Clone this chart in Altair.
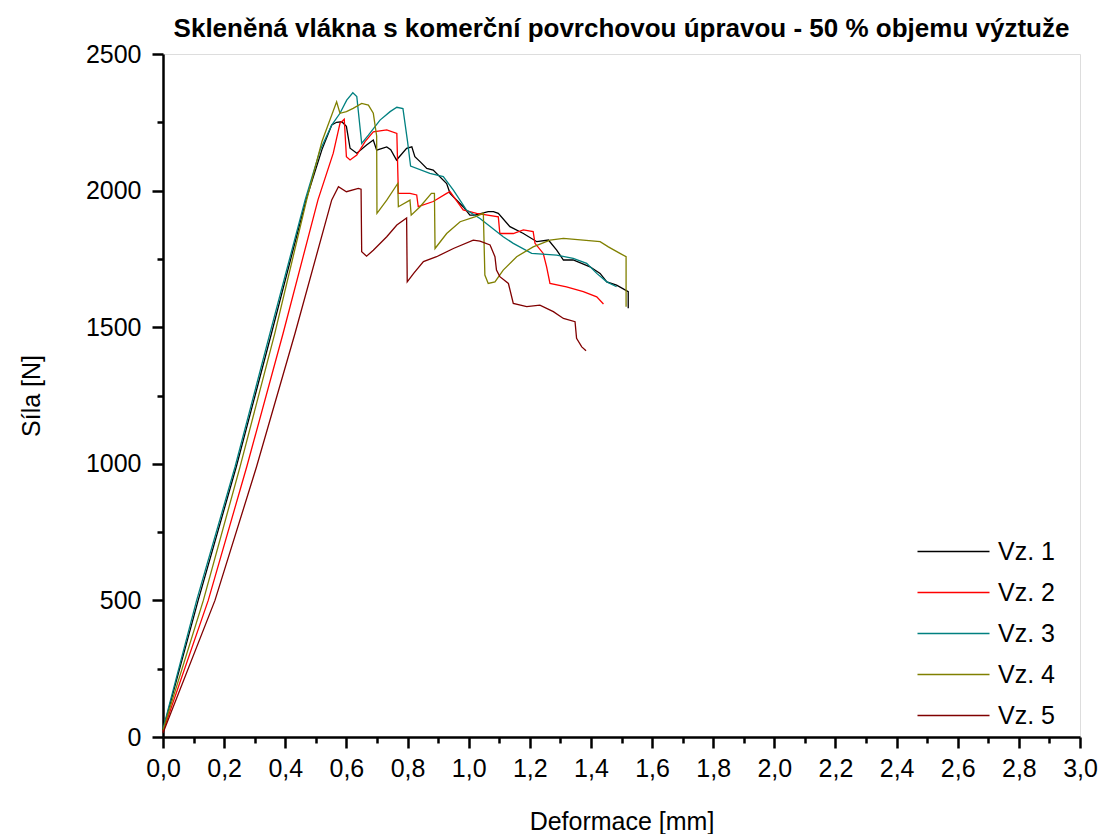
import altair as alt
import pandas as pd

# ---- data ----
names = ["Vz. 1", "Vz. 2", "Vz. 3", "Vz. 4", "Vz. 5"]
colors = ["#000000", "#FF0000", "#008080", "#808000", "#800000"]

x1 = [0, 0.115, 0.24, 0.355, 0.468, 0.52, 0.552, 0.568, 0.585, 0.60, 0.612, 0.634, 0.666, 0.688, 0.699,
      0.732, 0.745, 0.764, 0.797, 0.814, 0.824, 0.841, 0.863, 0.884, 0.928, 0.939, 0.982, 1.004, 1.02,
      1.064, 1.081, 1.097, 1.135, 1.179, 1.223, 1.261, 1.288, 1.31, 1.342, 1.397, 1.43, 1.452, 1.484,
      1.522, 1.522]
y1 = [25, 500, 990, 1478, 1966, 2150, 2240, 2250, 2252, 2235, 2155, 2137, 2167, 2185, 2148,
      2160, 2150, 2112, 2155, 2160, 2124, 2106, 2081, 2075, 2026, 1990, 1941, 1910, 1910,
      1923, 1923, 1917, 1868, 1843, 1813, 1819, 1782, 1746, 1746, 1721, 1697, 1666, 1654,
      1630, 1569]

x2 = [0, 0.148, 0.274, 0.393, 0.507, 0.557, 0.579, 0.593, 0.600, 0.612, 0.634, 0.661, 0.688, 0.732,
      0.765, 0.770, 0.808, 0.830, 0.835, 0.884, 0.928, 0.939, 0.982, 1.026, 1.097, 1.102, 1.146,
      1.179, 1.211, 1.217, 1.244, 1.255, 1.266, 1.32, 1.375, 1.419, 1.441]
y2 = [20, 500, 989, 1478, 1966, 2137, 2246, 2261, 2124, 2112, 2130, 2179, 2215, 2222,
      2209, 1990, 1990, 1984, 1941, 1960, 1990, 1996, 1929, 1917, 1904, 1843, 1843,
      1856, 1850, 1807, 1770, 1721, 1660, 1648, 1630, 1611, 1585]

x3 = [0, 0.11, 0.236, 0.35, 0.465, 0.514, 0.552, 0.579, 0.601, 0.621, 0.634, 0.65, 0.672, 0.71,
      0.743, 0.765, 0.785, 0.80, 0.81, 0.873, 0.917, 0.95, 0.993, 1.037, 1.113, 1.146, 1.206,
      1.288, 1.342, 1.386, 1.419, 1.452, 1.484]
y3 = [30, 500, 990, 1478, 1966, 2148, 2240, 2283, 2331, 2358, 2344, 2173, 2203, 2258,
      2289, 2305, 2300, 2180, 2090, 2063, 2051, 2002, 1929, 1898, 1831, 1807, 1770,
      1764, 1752, 1734, 1697, 1666, 1648]

x4 = [0, 0.132, 0.252, 0.366, 0.47, 0.52, 0.568, 0.579, 0.60, 0.622, 0.65, 0.672, 0.688, 0.699,
      0.70, 0.732, 0.768, 0.77, 0.808, 0.812, 0.841, 0.878, 0.888, 0.89, 0.928, 0.972, 1.02,
      1.048, 1.053, 1.064, 1.086, 1.113, 1.157, 1.211, 1.266, 1.31, 1.375, 1.43, 1.457, 1.495,
      1.515, 1.515]
y4 = [25, 500, 989, 1478, 1966, 2180, 2325, 2283, 2289, 2301, 2319, 2313, 2283, 2200,
      1917, 1965, 2026, 1941, 1965, 1910, 1941, 1990, 1990, 1788, 1843, 1886, 1904,
      1917, 1691, 1660, 1666, 1709, 1758, 1794, 1819, 1825, 1819, 1813, 1794, 1770,
      1758, 1575]

x5 = [0, 0.170, 0.306, 0.432, 0.552, 0.574, 0.60, 0.639, 0.648, 0.65, 0.666, 0.688, 0.732, 0.765,
      0.797, 0.799, 0.82, 0.852, 0.895, 0.95, 1.015, 1.037, 1.07, 1.086, 1.091, 1.102, 1.13,
      1.146, 1.19, 1.233, 1.277, 1.31, 1.348, 1.353, 1.37, 1.384]
y5 = [15, 500, 989, 1478, 1966, 2014, 1996, 2008, 2005, 1776, 1760, 1782, 1831, 1874,
      1900, 1666, 1697, 1740, 1758, 1788, 1819, 1815, 1801, 1758, 1709, 1685, 1660,
      1587, 1575, 1581, 1557, 1532, 1520, 1459, 1428, 1414]

x_major = [round(0.2 * i, 1) for i in range(16)]
x_minor = [round(0.1 + 0.2 * i, 1) for i in range(15)]
y_major = [0, 500, 1000, 1500, 2000, 2500]
y_minor = [250, 750, 1250, 1750, 2250]

rows = []
for name, xs, ys in zip(names, [x1, x2, x3, x4, x5], [y1, y2, y3, y4, y5]):
    for i, (a, b) in enumerate(zip(xs, ys)):
        rows.append({"series": name, "i": i, "x": a, "y": b})
df = pd.DataFrame(rows)

FONT = "Liberation Sans"
FS = 25

xscale = alt.Scale(domain=[0, 3], nice=False, zero=False)
yscale = alt.Scale(domain=[0, 2500], nice=False, zero=False)

lines = alt.Chart(df).mark_line(strokeWidth=1.3).encode(
    x=alt.X("x:Q", scale=xscale, title="Deformace [mm]",
            axis=alt.Axis(values=x_major, labelExpr="replace(format(datum.value, '.1f'), '.', ',')",
                          labelFlush=False, labelOverlap=False,
                          tickSize=11, tickWidth=2.5, domainWidth=2.5, domainColor="black", tickColor="black",
                          labelFontSize=FS, labelFont=FONT, labelPadding=8, labelColor="black",
                          titleFontSize=FS, titleFont=FONT, titleFontWeight="normal", titlePadding=28,
                          titleColor="black", grid=False, orient="bottom")),
    y=alt.Y("y:Q", scale=yscale, title="Síla [N]",
            axis=alt.Axis(values=y_major, format="d", labelFlush=False, labelOverlap=False,
                          tickSize=11, tickWidth=2.5, domainWidth=2.5,
                          domainColor="black", tickColor="black", labelFontSize=FS, labelFont=FONT,
                          labelPadding=11, labelColor="black", titleFontSize=FS, titleFont=FONT,
                          titleFontWeight="normal", titlePadding=41, titleColor="black", grid=False,
                          orient="left")),
    color=alt.Color("series:N", scale=alt.Scale(domain=names, range=colors),
                    legend=alt.Legend(title=None, orient="none", legendX=778, legendY=485, padding=0,
                                      symbolType="M-3.6,0H3.6", symbolSize=400, symbolStrokeWidth=1.5,
                                      symbolFillColor="transparent",
                                      labelFontSize=FS, labelFont=FONT, labelColor="black",
                                      rowPadding=15, labelOffset=32)),
    order="i:Q",
)

minor = alt.Chart(df).mark_line(opacity=0).encode(
    x=alt.X("x:Q", scale=xscale,
            axis=alt.Axis(values=x_minor, labels=False, domain=False, tickSize=6, tickWidth=2.5,
                          tickColor="black", title=None, grid=False, orient="bottom")),
    y=alt.Y("y:Q", scale=yscale,
            axis=alt.Axis(values=y_minor, labels=False, domain=False, tickSize=6, tickWidth=2.5,
                          tickColor="black", title=None, grid=False, orient="left")),
    detail="series:N",
)

chart = alt.layer(lines, minor).resolve_axis(x="independent", y="independent").properties(
    width=917, height=683,
    autosize=alt.AutoSizeParams(type="none"),
    padding={"left": 163, "top": 54, "right": 22, "bottom": 97},
    title=alt.Title("Skleněná vlákna s komerční povrchovou úpravou - 50 % objemu výztuže",
                    font=FONT, fontSize=26, fontWeight="bold", color="black", offset=0,
                    anchor="middle"),
).configure_view(stroke="black", strokeWidth=2).configure(background="white")

chart.save("out.html", embed_options={"renderer": "svg", "actions": False})
